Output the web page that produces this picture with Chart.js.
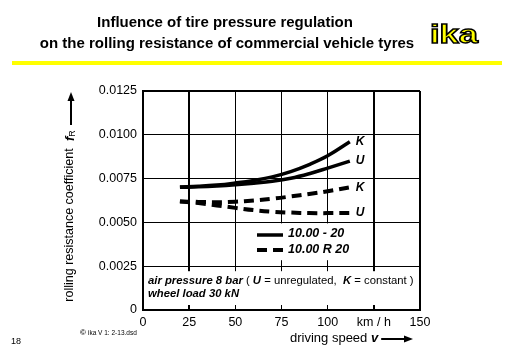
<!DOCTYPE html>
<html>
<head>
<meta charset="utf-8">
<script src="https://cdn.jsdelivr.net/npm/chart.js@4/dist/chart.umd.min.js"></script>
<style>
  html, body { margin: 0; padding: 0; background: #fff; }
  canvas { display: block; }
</style>
</head>
<body>
<canvas id="chart" width="512" height="354"></canvas>
<script>
// driving speed in km/h
const speeds = [20, 30, 40, 50, 60, 70, 80, 90, 100, 112];
// rolling resistance coefficient f_R
const biasK = [0.00702, 0.00706, 0.00713, 0.00725, 0.0074, 0.0076, 0.0079, 0.0083, 0.0088, 0.0096]; // 10.00 - 20, constant
const biasU = [0.0070, 0.00703, 0.00708, 0.00715, 0.00724, 0.00735, 0.00752, 0.00778, 0.0081, 0.0085]; // 10.00 - 20, unregulated
const radialK = [0.0062, 0.00617, 0.00615, 0.00618, 0.00625, 0.00635, 0.00648, 0.00662, 0.00678, 0.0070]; // 10.00 R 20, constant
const radialU = [0.0062, 0.0061, 0.00597, 0.00583, 0.0057, 0.00561, 0.00556, 0.00553, 0.00553, 0.00554]; // 10.00 R 20, unregulated

const xTicks = [0, 25, 50, 75, 100, 125, 150];
const xTickLabels = ["0", "25", "50", "75", "100", "km / h", "150"];
const yTicks = [0, 0.0025, 0.005, 0.0075, 0.01, 0.0125];
const yTickLabels = ["0", "0.0025", "0.0050", "0.0075", "0.0100", "0.0125"];

const curveLabels = ["K", "U", "K", "U"];

const font = '"Liberation Sans", Arial, sans-serif';

function pts(ys) {
  return speeds.map((s, i) => ({ x: s, y: ys[i] }));
}

function mkSet(ys, dashed) {
  return {
    data: pts(ys),
    borderColor: "#000",
    borderWidth: dashed ? 4 : 3.5,
    borderDash: dashed ? [10, 6] : [],
    borderCapStyle: "butt",
    pointRadius: 0,
    tension: 0.4,
    fill: false,
  };
}

function arrow(ctx, x1, y1, x2, y2) {
  const a = Math.atan2(y2 - y1, x2 - x1);
  ctx.beginPath();
  ctx.moveTo(x1, y1);
  ctx.lineTo(x2 - 6 * Math.cos(a), y2 - 6 * Math.sin(a));
  ctx.lineWidth = 2;
  ctx.stroke();
  ctx.beginPath();
  ctx.moveTo(x2, y2);
  ctx.lineTo(x2 - 9 * Math.cos(a) + 3.5 * Math.sin(a), y2 - 9 * Math.sin(a) - 3.5 * Math.cos(a));
  ctx.lineTo(x2 - 9 * Math.cos(a) - 3.5 * Math.sin(a), y2 - 9 * Math.sin(a) + 3.5 * Math.cos(a));
  ctx.closePath();
  ctx.fill();
}

function runs(ctx, x, y, parts) {
  parts.forEach(([f, t]) => {
    ctx.font = f;
    ctx.fillText(t, x, y);
    x += ctx.measureText(t).width;
  });
}

const boxes = {
  id: "boxes",
  beforeDatasetsDraw(chart) {
    const { ctx, chartArea: a, scales: { x, y } } = chart;
    ctx.save();
    ctx.fillStyle = "#fff";
    // note box along the bottom, leaves short grid ticks
    ctx.fillRect(a.left + 1.5, y.getPixelForValue(0.0025) + 5, a.right - a.left - 3, y.getPixelForValue(0) - y.getPixelForValue(0.0025) - 10);
    // legend box
    const lx = x.getPixelForValue(52), rx = x.getPixelForValue(125) - 1.5;
    ctx.fillRect(lx, y.getPixelForValue(0.005) + 1, rx - lx, y.getPixelForValue(0.0025) - y.getPixelForValue(0.005) - 7);
    ctx.restore();
  },
  afterDraw(chart) {
    const { ctx } = chart;
    ctx.save();
    ctx.fillStyle = "#000";
    ctx.strokeStyle = "#000";
    ctx.textBaseline = "middle";

    // curve end labels
    ctx.font = "bold italic 12px " + font;
    ctx.textAlign = "left";
    chart.data.datasets.forEach((ds, i) => {
      const m = chart.getDatasetMeta(i).data;
      const p = m[m.length - 1];
      ctx.fillText(curveLabels[i], p.x + 6, p.y);
    });

    // legend
    ctx.lineWidth = 3.5;
    ctx.beginPath(); ctx.moveTo(257, 235); ctx.lineTo(283, 235); ctx.stroke();
    ctx.lineWidth = 4;
    ctx.setLineDash([10, 6]);
    ctx.beginPath(); ctx.moveTo(257, 250); ctx.lineTo(284, 250); ctx.stroke();
    ctx.setLineDash([]);
    ctx.font = "bold italic 12.5px " + font;
    ctx.fillText("10.00 - 20", 288, 234);
    ctx.fillText("10.00 R 20", 288, 250);

    // note
    const bi = "bold italic 11.3px " + font, rg = "11.3px " + font;
    runs(ctx, 148, 281, [[bi, "air pressure 8 bar"], [rg, " ( "], [bi, "U"], [rg, " = unregulated,  "], [bi, "K"], [rg, " = constant )"]]);
    runs(ctx, 148, 294, [[bi, "wheel load 30 kN"]]);

    // title
    ctx.textAlign = "center";
    ctx.font = "bold 15px " + font;
    ctx.fillText("Influence of tire pressure regulation", 225, 23);
    ctx.fillText("on the rolling resistance of commercial vehicle tyres", 227, 44);

    // logo
    ctx.save();
    ctx.font = "bold 26px " + font;
    const lw = ctx.measureText("ika").width;
    ctx.translate(430, 43);
    ctx.scale(48 / lw, 1);
    ctx.textAlign = "left";
    ctx.textBaseline = "alphabetic";
    ctx.fillStyle = "#ffff00";
    ctx.fillText("ika", 0, 0);
    ctx.lineWidth = 1.4;
    ctx.strokeText("ika", 0, 0);
    ctx.restore();

    // yellow rule
    ctx.fillStyle = "#ffff00";
    ctx.fillRect(12, 61, 490, 4);
    ctx.fillStyle = "#000";

    // y axis title
    ctx.save();
    ctx.translate(70, 225);
    ctx.rotate(-Math.PI / 2);
    ctx.font = "12.5px " + font;
    ctx.fillText("rolling resistance coefficient", 0, 0);
    ctx.restore();
    ctx.save();
    ctx.translate(70, 141);
    ctx.rotate(-Math.PI / 2);
    ctx.textAlign = "left";
    ctx.font = "bold italic 13px " + font;
    ctx.fillText("f", 0, 0);
    const fw = ctx.measureText("f").width;
    ctx.font = "9px " + font;
    ctx.fillText("R", fw, 3);
    ctx.restore();
    arrow(ctx, 71, 125, 71, 92);

    // x axis title
    ctx.textAlign = "left";
    ctx.font = "13px " + font;
    ctx.fillText("driving speed", 290, 338);
    let tx = 290 + ctx.measureText("driving speed ").width;
    ctx.font = "bold italic 13px " + font;
    ctx.fillText("v", tx, 338);
    tx += ctx.measureText("v").width + 3;
    arrow(ctx, tx, 339, 413, 339);

    // page footer
    ctx.font = "9px " + font;
    ctx.fillText("18", 11, 342);
    ctx.font = "bold 8px " + font;
    ctx.fillText("\u00a9", 80, 333);
    ctx.font = "6.5px " + font;
    ctx.fillText("ika V 1: 2-13.dsd", 88, 333);
    ctx.restore();
  },
};

new Chart(document.getElementById("chart"), {
  type: "line",
  data: {
    datasets: [mkSet(biasK, false), mkSet(biasU, false), mkSet(radialK, true), mkSet(radialU, true)],
  },
  options: {
    responsive: false,
    animation: false,
    devicePixelRatio: 1,
    layout: { padding: { top: 91, right: 92, left: 0, bottom: 0 } },
    plugins: { legend: { display: false }, tooltip: { enabled: false } },
    scales: {
      x: {
        type: "linear",
        min: 0,
        max: 150,
        afterFit: (s) => { s.height = 44; },
        afterBuildTicks: (s) => { s.ticks = xTicks.map((v) => ({ value: v })); },
        ticks: {
          color: "#000",
          padding: 5,
          font: { family: font, size: 12.5 },
          callback: (v) => xTickLabels[xTicks.indexOf(v)],
        },
        grid: {
          color: "#000",
          drawTicks: false,
          lineWidth: (c) => ([25, 125, 150].includes(c.tick && c.tick.value) ? 2 : 1),
        },
        border: { color: "#000", width: 2 },
      },
      y: {
        min: 0,
        max: 0.0125,
        afterFit: (s) => { s.width = 143; },
        afterBuildTicks: (s) => { s.ticks = yTicks.map((v) => ({ value: v })); },
        ticks: {
          color: "#000",
          padding: 6,
          font: { family: font, size: 12.5 },
          callback: (v) => yTickLabels[yTicks.indexOf(v)],
        },
        grid: {
          color: "#000",
          drawTicks: false,
          lineWidth: (c) => (c.tick && c.tick.value === 0.0125 ? 2 : 1),
        },
        border: { color: "#000", width: 2 },
      },
    },
  },
  plugins: [boxes],
});
</script>
</body>
</html>
